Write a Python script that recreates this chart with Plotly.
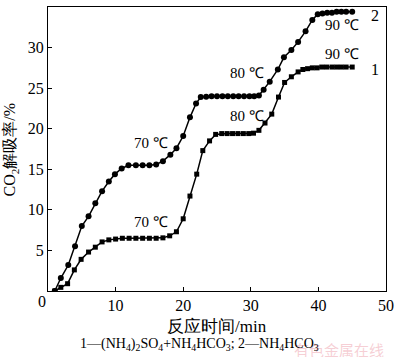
import plotly.graph_objects as go

# Series 1: (NH4)2SO4 + NH4HCO3 (squares)
time_1 = [1.0, 1.9, 2.9, 3.9, 4.9, 6.0, 7.0, 8.0, 9.0, 10.0, 11.0, 12.0, 13.0, 14.0, 15.0, 16.0, 17.0,
          18.0, 19.0, 20.0, 21.0, 22.0, 22.9, 23.9, 24.8, 25.7, 26.5, 27.3, 28.1, 28.9, 29.7, 30.4,
          31.2, 32.1, 33.1, 34.1, 35.0, 36.0, 37.0, 37.7, 38.4, 39.1, 39.8, 40.5, 41.2, 42.0, 42.7,
          43.4, 44.1, 45.0]
rate_1 = [0, 0.45, 0.9, 2.6, 3.9, 4.8, 5.4, 6.05, 6.3, 6.4, 6.5, 6.5, 6.5, 6.5, 6.5, 6.5, 6.55,
          6.8, 7.3, 8.9, 11.7, 14.4, 17.3, 18.5, 19.3, 19.4, 19.4, 19.4, 19.4, 19.4, 19.4, 19.45,
          19.8, 20.7, 21.8, 23.9, 25.7, 26.4, 27.0, 27.3, 27.4, 27.5, 27.5, 27.6, 27.6, 27.6, 27.6,
          27.6, 27.6, 27.6]

# Series 2: NH4HCO3 (circles)
time_2 = [1.0, 1.9, 3.0, 4.0, 5.0, 6.0, 7.0, 8.0, 9.0, 9.9, 10.9, 11.9, 13.0, 14.0, 15.0, 16.0, 17.0,
          18.1, 19.0, 20.0, 21.0, 21.9, 22.6, 23.4, 24.2, 25.0, 25.8, 26.6, 27.4, 28.2, 29.0, 29.8,
          30.5, 31.2, 31.9, 32.8, 34.0, 34.9, 36.0, 37.0, 38.1, 39.1, 39.9, 40.6, 41.3, 42.0, 42.7,
          43.4, 44.1, 45.0]
rate_2 = [0, 1.6, 3.2, 5.5, 8.0, 9.2, 10.8, 12.3, 13.5, 14.4, 15.1, 15.5, 15.5, 15.5, 15.5, 15.6, 16.0,
          16.8, 17.6, 19.1, 21.4, 23.1, 23.9, 23.95, 24.0, 24.0, 24.0, 24.0, 24.0, 24.0, 24.0, 24.0,
          24.0, 24.1, 24.8, 25.8, 27.3, 28.8, 29.7, 30.7, 32.0, 33.4, 34.1, 34.2, 34.3, 34.3, 34.4,
          34.4, 34.4, 34.4]

x_ticks = [10, 20, 30, 40, 50]
y_ticks = [5, 10, 15, 20, 25, 30, 35]

temp_labels = ["70 ℃", "70 ℃", "80 ℃", "80 ℃", "90 ℃", "90 ℃"]
temp_x = [15.3, 15.3, 29.4, 29.4, 43.5, 43.5]
temp_y = [18.2, 8.5, 26.9, 21.6, 32.8, 29.2]

FONT = "Liberation Serif, Times New Roman, serif"

fig = go.Figure()
fig.add_trace(go.Scatter(x=time_1, y=rate_1, mode="lines+markers",
                         line=dict(color="black", width=1.5),
                         marker=dict(symbol="square", size=5, color="black"),
                         showlegend=False, hoverinfo="skip"))
fig.add_trace(go.Scatter(x=time_2, y=rate_2, mode="lines+markers",
                         line=dict(color="black", width=1.5),
                         marker=dict(symbol="circle", size=6, color="black"),
                         showlegend=False, hoverinfo="skip"))

for t, xx, yy in zip(temp_labels, temp_x, temp_y):
    fig.add_annotation(x=xx, y=yy, text=t, showarrow=False, xref="x", yref="y",
                       font=dict(family=FONT, size=15, color="black"))

fig.add_annotation(x=48.3, y=33.9, text="2", showarrow=False, font=dict(family=FONT, size=16, color="black"))
fig.add_annotation(x=48.3, y=27.3, text="1", showarrow=False, font=dict(family=FONT, size=16, color="black"))
fig.add_annotation(xref="paper", yref="paper", x=0, y=0, xanchor="center", yanchor="middle",
                   xshift=-6, yshift=-10, text="0", showarrow=False,
                   font=dict(family=FONT, size=16, color="black"))

fig.add_annotation(xref="paper", yref="paper", x=0.5, y=-0.125, yanchor="middle",
                   text="反应时间/min", showarrow=False,
                   font=dict(family=FONT, size=17, color="black"))
fig.add_annotation(xref="paper", yref="paper", x=1.0, xanchor="right", y=-0.205, yanchor="middle",
                   text="有色金属在线", showarrow=False,
                   font=dict(family="Noto Sans CJK SC", size=15, color="rgba(240,175,185,0.6)"))
fig.add_annotation(xref="paper", yref="paper", x=0.448, xanchor="center", y=-0.189, yanchor="middle",
                   text="1—(NH<sub>4</sub>)<sub>2</sub>SO<sub>4</sub>+NH<sub>4</sub>HCO<sub>3</sub>; 2—NH<sub>4</sub>HCO<sub>3</sub>",
                   showarrow=False, font=dict(family=FONT, size=14, color="black"))
fig.add_annotation(xref="paper", yref="paper", x=-0.145, y=0.5, textangle=-90,
                   text="CO<sub>2</sub>解吸率/%", showarrow=False,
                   font=dict(family=FONT, size=16, color="black"))

axis_common = dict(showline=True, linecolor="black", linewidth=1, mirror=True,
                   ticks="inside", ticklen=4, tickcolor="black", showgrid=False, zeroline=False,
                   tickfont=dict(family=FONT, size=16, color="black"))
fig.update_xaxes(range=[0, 50], tickvals=x_ticks, **axis_common)
fig.update_yaxes(range=[0, 35], tickvals=y_ticks, **axis_common)

fig.update_layout(width=400, height=357, margin=dict(l=48, r=8, t=6, b=66),
                  plot_bgcolor="white", paper_bgcolor="white", hovermode=False)

fig.write_html("out.html", config={"displayModeBar": False, "staticPlot": True},
               post_script="document.body.style.margin='0';document.body.style.overflow='hidden';")
